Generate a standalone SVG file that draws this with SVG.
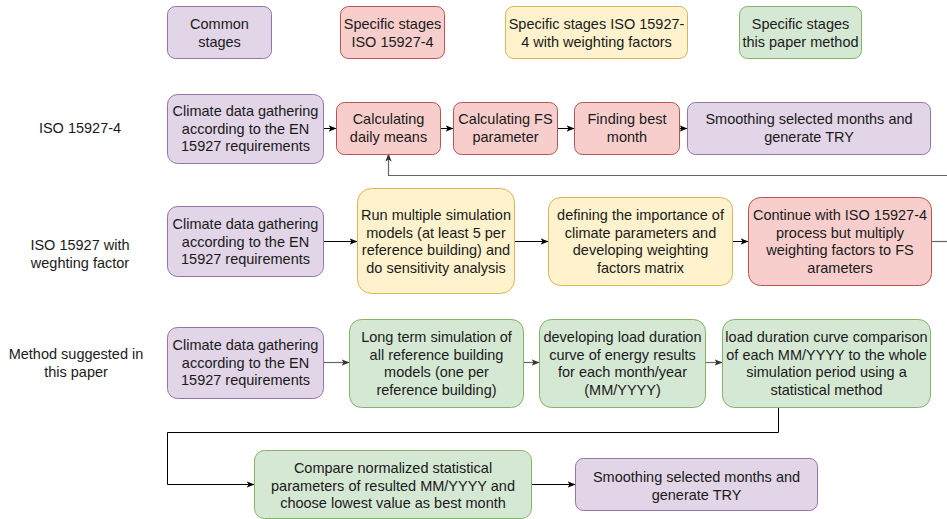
<svg xmlns="http://www.w3.org/2000/svg" width="947" height="519" viewBox="0 0 947 519">
<defs>
<style>
text{font-family:"Liberation Sans",Arial,sans-serif;font-size:14.5px;fill:#1a1a1a;text-anchor:middle}
.pu{fill:#e1d5e7;stroke:#9673a6;stroke-width:1}
.rd{fill:#f8cecc;stroke:#b85450;stroke-width:1}
.ye{fill:#fff2cc;stroke:#d6b656;stroke-width:1}
.gr{fill:#d5e8d4;stroke:#82b366;stroke-width:1}
.c{fill:none;stroke:#000;stroke-width:1}
.cg{fill:none;stroke:#666;stroke-width:1.2}
</style>
<marker id="ah" viewBox="0 0 8 8" refX="7.5" refY="4" markerWidth="8" markerHeight="8" markerUnits="userSpaceOnUse" orient="auto">
<path d="M0,0.8 L8,4 L0,7.2 L2,4 z" fill="#000"/>
</marker>
<marker id="ahg" viewBox="0 0 8 8" refX="7.5" refY="4" markerWidth="8" markerHeight="8" markerUnits="userSpaceOnUse" orient="auto">
<path d="M0,0.8 L8,4 L0,7.2 L2,4 z" fill="#333"/>
</marker>
</defs>

<g id="legend">
<g id="leg-common"><rect class="pu" x="167.5" y="6.5" width="104" height="52" rx="8"/><text x="219.5" y="29">Common</text><text x="219.5" y="47">stages</text></g>
<g id="leg-iso"><rect class="rd" x="340.5" y="6.5" width="104" height="52" rx="8"/><text x="392.5" y="29">Specific stages</text><text x="392.5" y="47">ISO 15927-4</text></g>
<g id="leg-weight"><rect class="ye" x="505.5" y="6.5" width="182" height="52" rx="8"/><text x="596.5" y="29">Specific stages ISO 15927-</text><text x="596.5" y="47">4 with weighting factors</text></g>
<g id="leg-paper"><rect class="gr" x="739.5" y="6.5" width="122" height="52" rx="8"/><text x="800.5" y="29">Specific stages</text><text x="800.5" y="47">this paper method</text></g>
</g>

<g id="row-labels">
<text x="80" y="133">ISO 15927-4</text>
<text x="80" y="250">ISO 15927 with</text>
<text x="80" y="268">weghting factor</text>
<text x="76" y="359">Method suggested in</text>
<text x="76" y="377">this paper</text>
</g>

<g id="connectors">
<line class="c" x1="323" y1="128.5" x2="336" y2="128.5" marker-end="url(#ah)"/>
<line class="c" x1="440" y1="128.5" x2="453" y2="128.5" marker-end="url(#ah)"/>
<line class="c" x1="557" y1="128.5" x2="574" y2="128.5" marker-end="url(#ah)"/>
<line class="c" x1="679" y1="128.5" x2="687" y2="128.5" marker-end="url(#ah)"/>
<polyline class="cg" points="947,175.5 388.5,175.5 388.5,154" marker-end="url(#ahg)"/>
<line class="c" x1="323" y1="241.5" x2="357" y2="241.5" marker-end="url(#ah)"/>
<line class="c" x1="514" y1="241.5" x2="548" y2="241.5" marker-end="url(#ah)"/>
<line class="c" x1="732" y1="241.5" x2="748" y2="241.5" marker-end="url(#ah)"/>
<line class="cg" x1="931" y1="241.5" x2="947" y2="241.5"/>
<line class="cg" x1="323" y1="362.5" x2="349" y2="362.5" marker-end="url(#ahg)"/>
<line class="cg" x1="523" y1="362.5" x2="539" y2="362.5" marker-end="url(#ahg)"/>
<line class="cg" x1="705" y1="362.5" x2="722" y2="362.5" marker-end="url(#ahg)"/>
<polyline class="c" points="778.5,407 778.5,432.5 167.5,432.5 167.5,484.5 254,484.5" marker-end="url(#ah)"/>
<line class="c" x1="531" y1="484.5" x2="575" y2="484.5" marker-end="url(#ah)"/>
</g>

<g id="r1-climate"><rect class="pu" x="167.5" y="94.5" width="156" height="69" rx="10"/><text x="245.5" y="116">Climate data gathering</text><text x="245.5" y="133.5">according to the EN</text><text x="245.5" y="151">15927 requirements</text></g>
<g id="r1-daily"><rect class="rd" x="336.5" y="102.5" width="104" height="52" rx="8"/><text x="388.5" y="124">Calculating</text><text x="388.5" y="142">daily means</text></g>
<g id="r1-fs"><rect class="rd" x="453.5" y="102.5" width="104" height="52" rx="8"/><text x="505.5" y="124">Calculating FS</text><text x="505.5" y="142">parameter</text></g>
<g id="r1-best"><rect class="rd" x="574.5" y="102.5" width="105" height="52" rx="8"/><text x="627" y="124">Finding best</text><text x="627" y="142">month</text></g>
<g id="r1-smooth"><rect class="pu" x="687.5" y="102.5" width="243" height="52" rx="8"/><text x="809" y="124">Smoothing selected months and</text><text x="809" y="142">generate TRY</text></g>

<g id="r2-climate"><rect class="pu" x="167.5" y="206.5" width="156" height="70" rx="10"/><text x="245.5" y="229">Climate data gathering</text><text x="245.5" y="246.5">according to the EN</text><text x="245.5" y="264">15927 requirements</text></g>
<g id="r2-run"><rect class="ye" x="357.5" y="188.5" width="157" height="105" rx="14"/><text x="436" y="220">Run multiple simulation</text><text x="436" y="237.5">models (at least 5 per</text><text x="436" y="255">reference building) and</text><text x="436" y="272.5">do sensitivity analysis</text></g>
<g id="r2-define"><rect class="ye" x="548.5" y="197.5" width="184" height="88" rx="12"/><text x="640.5" y="220">defining the importance of</text><text x="640.5" y="237.5">climate parameters and</text><text x="640.5" y="255">developing weighting</text><text x="640.5" y="272.5">factors matrix</text></g>
<g id="r2-continue"><rect class="rd" x="748.5" y="197.5" width="183" height="88" rx="12"/><text x="840" y="220">Continue with ISO 15927-4</text><text x="840" y="237.5">process but multiply</text><text x="840" y="255">weighting factors to FS</text><text x="840" y="272.5">arameters</text></g>

<g id="r3-climate"><rect class="pu" x="167.5" y="327.5" width="156" height="71" rx="10"/><text x="245.5" y="350">Climate data gathering</text><text x="245.5" y="367.5">according to the EN</text><text x="245.5" y="385">15927 requirements</text></g>
<g id="r3-long"><rect class="gr" x="349.5" y="319.5" width="174" height="88" rx="12"/><text x="436.5" y="342">Long term simulation of</text><text x="436.5" y="359.5">all reference building</text><text x="436.5" y="377">models (one per</text><text x="436.5" y="394.5">reference building)</text></g>
<g id="r3-ldc"><rect class="gr" x="539.5" y="319.5" width="166" height="88" rx="12"/><text x="622.5" y="342">developing load duration</text><text x="622.5" y="359.5">curve of energy results</text><text x="622.5" y="377">for each month/year</text><text x="622.5" y="394.5">(MM/YYYY)</text></g>
<g id="r3-compare-ldc"><rect class="gr" x="722.5" y="319.5" width="208" height="88" rx="12"/><text x="826.5" y="342">load duration curve comparison</text><text x="826.5" y="359.5">of each MM/YYYY to the whole</text><text x="826.5" y="377">simulation period using a</text><text x="826.5" y="394.5">statistical method</text></g>
<g id="r3-compare"><rect class="gr" x="254.5" y="450.5" width="277" height="68" rx="10"/><text x="393" y="473">Compare normalized statistical</text><text x="393" y="490.5">parameters of resulted MM/YYYY and</text><text x="393" y="508">choose lowest value as best month</text></g>
<g id="r3-smooth"><rect class="pu" x="575.5" y="458.5" width="242" height="52" rx="8"/><text x="696.5" y="482">Smoothing selected months and</text><text x="696.5" y="500">generate TRY</text></g>
</svg>
